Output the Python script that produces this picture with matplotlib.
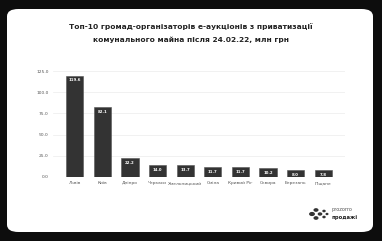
import matplotlib.pyplot as plt
from matplotlib.patches import FancyBboxPatch

# data
communities = ['Львів', 'Київ', 'Дніпро', 'Черкаси', 'Хмельницький', 'Сміла',
               'Кривий Ріг', 'Сквира', 'Березань', 'Піщане']
values = [119.6, 82.1, 22.2, 14.0, 13.7, 11.7, 11.7, 10.2, 8.0, 7.8]
yticks = [0, 25, 50, 75, 100, 125]

W, H = 382, 241
fig = plt.figure(figsize=(W / 100, H / 100), dpi=100)
fig.patch.set_facecolor('#0d0d0d')

# white rounded card
card = FancyBboxPatch((7 / W, 9 / H), 366 / W, 223 / H,
                      boxstyle='round,pad=0,rounding_size=0.03',
                      transform=fig.transFigure, facecolor='white',
                      edgecolor='none', zorder=-5)
fig.patches.append(card)

fig.text(0.5, 1 - 27 / H, 'Топ-10 громад-організаторів е-аукціонів з приватизації',
         ha='center', va='center', fontsize=5.4, fontweight='bold', color='#222222')
fig.text(0.5, 1 - 40 / H, 'комунального майна після 24.02.22, млн грн',
         ha='center', va='center', fontsize=5.4, fontweight='bold', color='#222222')

ax = fig.add_axes([53 / W, 1 - 177 / H, 292 / W, 106 / H])
ax.set_facecolor('none')
x = range(len(communities))
bars = ax.bar(x, values, width=0.62, color='#333333', edgecolor='#555555',
              linewidth=0.4, zorder=3)
for xi, v in zip(x, values):
    ax.annotate(f'{v:.1f}', (xi, v), xytext=(0, -1.8), textcoords='offset points',
                ha='center', va='top', fontsize=2.8, fontweight='bold', color='white',
                zorder=4)

ax.set_ylim(0, 125)
ax.set_yticks(yticks)
ax.set_yticklabels([f'{t:.1f}' for t in yticks])
ax.set_xticks(list(x))
ax.set_xticklabels(communities)
ax.tick_params(axis='both', length=0, labelsize=3.2, labelcolor='#555555', pad=3)
ax.grid(axis='y', color='#ececec', linewidth=0.5, zorder=0)
for s in ax.spines.values():
    s.set_visible(False)

# logo
dots = [(312, 214, 2.2), (316, 210, 1.8), (316, 218, 1.8), (320, 214, 1.6),
        (324, 211, 1.0), (324, 217, 1.0), (327, 214, 0.8)]
for dx, dy, r in dots:
    fig.patches.append(plt.Circle((dx / W, 1 - dy / H), r / W, transform=fig.transFigure,
                                  color='#333333', zorder=2))
fig.text(331 / W, 1 - 210 / H, 'prozorro', fontsize=3.6, color='#555555', va='center')
fig.text(331 / W, 1 - 217 / H, 'продажі', fontsize=3.8, fontweight='bold',
         color='#222222', va='center')

fig.savefig('out.png', dpi=100, facecolor=fig.get_facecolor())
